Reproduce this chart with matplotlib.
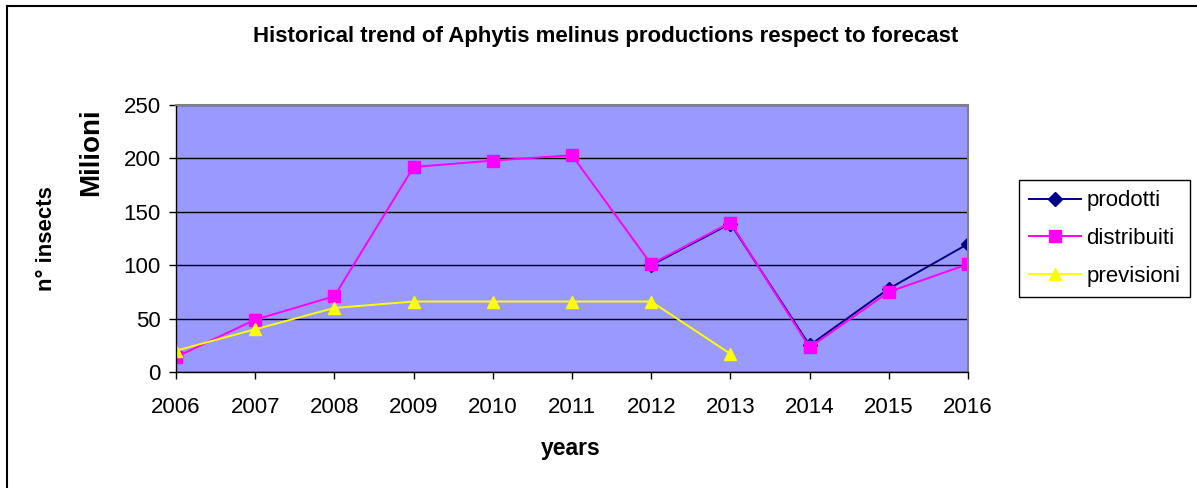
import numpy as np
import matplotlib
matplotlib.use('Agg')
import matplotlib.pyplot as plt
from matplotlib.lines import Line2D

plt.rcParams['font.family'] = ['Liberation Sans', 'DejaVu Sans']

# Data (milioni of insects)
years = [2006, 2007, 2008, 2009, 2010, 2011, 2012, 2013, 2014, 2015, 2016]
prodotti = [np.nan, np.nan, np.nan, np.nan, np.nan, np.nan, 100, 139, 25, 78, 120]
distribuiti = [14, 49, 71, 192, 198, 203, 101, 140, 23, 75, 101]
previsioni = [20, 40, 60, 66, 66, 66, 66, 17, np.nan, np.nan, np.nan]

fig = plt.figure(figsize=(11.97, 4.88), dpi=100)
ax = fig.add_axes([0.147, 0.2377, 0.6617, 0.547])
ax.set_facecolor('#9999FF')

x = np.arange(len(years))
ax.plot(x, prodotti, color='#000080', marker='D', markersize=7, linewidth=1.4, label='prodotti')
ax.plot(x, distribuiti, color='#FF00FF', marker='s', markersize=8, linewidth=1.4, label='distribuiti')
ax.plot(x, previsioni, color='#FFFF00', marker='^', markersize=9, linewidth=1.4, label='previsioni')

ax.set_xlim(0, len(years) - 1)
ax.set_ylim(0, 250)
ax.set_yticks(np.arange(0, 251, 50))
ax.set_xticks(x)
ax.set_xticklabels([str(y) for y in years])
ax.yaxis.grid(True, color='black', linewidth=1)
ax.set_axisbelow(True)
ax.tick_params(axis='both', labelsize=16, direction='out', length=5, width=1)
ax.tick_params(axis='x', pad=13)
ax.tick_params(axis='y', pad=6)

for s in ['top', 'right']:
    ax.spines[s].set_color('#808080')
    ax.spines[s].set_linewidth(1.5)
for s in ['left', 'bottom']:
    ax.spines[s].set_color('black')
    ax.spines[s].set_linewidth(1)

fig.text(0.506, 0.926, 'Historical trend of Aphytis melinus productions respect to forecast',
         ha='center', va='center', fontsize=16, fontweight='bold')
fig.text(0.477, 0.08, 'years', ha='center', va='center', fontsize=16.5, fontweight='bold')
fig.text(0.039, 0.512, 'n° insects', ha='center', va='center', fontsize=16,
         fontweight='bold', rotation=90)
fig.text(0.076, 0.689, 'Milioni', ha='center', va='center', fontsize=20,
         fontweight='bold', rotation=90)

leg = ax.legend(loc='center left', bbox_to_anchor=(1.064, 0.5), borderaxespad=0, fontsize=16,
                frameon=True, fancybox=False, edgecolor='black', framealpha=1,
                handlelength=2.35, borderpad=0.45, labelspacing=0.75, handletextpad=0.25)
leg.get_frame().set_linewidth(1)

# outer chart frame (only left and top edges visible)
fig.add_artist(Line2D([7 / 1197, 7 / 1197], [0, 1 - 6 / 488], transform=fig.transFigure,
                      color='black', linewidth=1.5))
fig.add_artist(Line2D([7 / 1197, 1], [1 - 6 / 488, 1 - 6 / 488], transform=fig.transFigure,
                      color='black', linewidth=1.5))

fig.savefig('out.png', dpi=100)
